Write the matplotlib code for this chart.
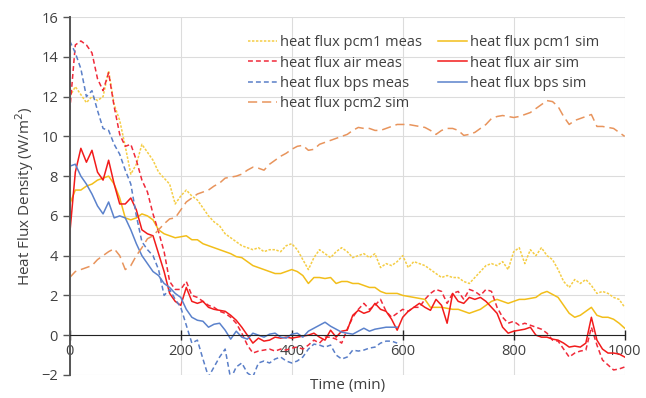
import numpy as np
import matplotlib
matplotlib.use('Agg')
import matplotlib.pyplot as plt

plt.rcParams['font.family'] = ['Open Sans', 'DejaVu Sans']

#### Données ####
t_full = list(range(0, 1001, 10))
t_bps = list(range(0, 591, 10))

pcm1_meas = [12.0, 12.5, 12.1, 11.7, 12.0, 11.8, 12.0, 13.3, 11.6, 10.8,
             9.5, 8.1, 8.6, 9.6, 9.2, 8.8, 8.2, 7.9, 7.6, 6.6,
             7.0, 7.3, 7.0, 6.8, 6.4, 6.0, 5.7, 5.5, 5.1, 4.9,
             4.7, 4.5, 4.4, 4.3, 4.4, 4.2, 4.3, 4.3, 4.2, 4.5,
             4.6, 4.3, 3.8, 3.3, 3.9, 4.3, 4.1, 3.9, 4.2, 4.4,
             4.2, 3.9, 4.0, 4.1, 3.9, 4.1, 3.4, 3.6, 3.5, 3.7,
             4.0, 3.4, 3.7, 3.6, 3.5, 3.3, 3.1, 2.9, 3.0, 2.9,
             2.9, 2.7, 2.6, 2.9, 3.2, 3.5, 3.6, 3.5, 3.7, 3.3,
             4.2, 4.4, 3.6, 4.3, 4.0, 4.4, 4.0, 3.8, 3.3, 2.7,
             2.4, 2.8, 2.6, 2.8, 2.5, 2.1, 2.2, 2.1, 1.9, 1.8,
             1.4]
pcm1_sim = [6.6, 7.3, 7.3, 7.5, 7.6, 7.8, 7.9, 8.0, 7.6, 6.9,
            5.9, 5.8, 5.9, 6.1, 6.0, 5.8, 5.3, 5.1, 5.0, 4.9,
            4.95, 5.0, 4.8, 4.8, 4.6, 4.5, 4.4, 4.3, 4.2, 4.1,
            3.95, 3.9, 3.7, 3.5, 3.4, 3.3, 3.2, 3.1, 3.1, 3.2,
            3.3, 3.2, 3.0, 2.6, 2.9, 2.9, 2.85, 2.9, 2.6, 2.7,
            2.7, 2.6, 2.6, 2.5, 2.4, 2.4, 2.2, 2.1, 2.1, 2.1,
            2.0, 1.95, 1.9, 1.85, 1.8, 1.4, 1.4, 1.4, 1.35, 1.3,
            1.3, 1.2, 1.1, 1.2, 1.3, 1.5, 1.7, 1.8, 1.7, 1.6,
            1.7, 1.8, 1.8, 1.85, 1.9, 2.1, 2.2, 2.05, 1.9, 1.5,
            1.1, 0.9, 1.0, 1.2, 1.4, 1.0, 0.9, 0.9, 0.8, 0.6,
            0.35]
air_meas = [11.3, 14.6, 14.8, 14.6, 14.2, 12.9, 12.3, 13.2, 11.5, 10.1,
            9.5, 9.6, 8.8, 7.8, 7.2, 6.1, 5.2, 4.2, 2.7, 2.3,
            2.3, 2.7, 2.0, 1.9, 1.7, 1.5, 1.4, 1.2, 1.1, 0.9,
            0.6, 0.1, -0.5, -0.9, -0.8, -0.75, -0.7, -0.8, -0.7, -0.75,
            -0.65, -0.6, -0.7, -0.5, -0.25, -0.4, -0.1, -0.1, -0.2, -0.4,
            0.3, 0.9, 1.3, 1.6, 1.3, 1.5, 1.8, 1.2, 0.9, 1.1,
            1.3, 1.2, 1.4, 1.4, 1.8, 2.1, 2.3, 2.2, 1.6, 2.1,
            2.2, 1.8, 2.3, 2.2, 2.0, 2.3, 2.2, 1.4, 0.9, 0.6,
            0.7, 0.5, 0.6, 0.5, 0.4, 0.3, 0.1, -0.25, -0.3, -0.7,
            -1.1, -0.9, -0.8, -0.75, 0.4, -0.5, -1.25, -1.5, -1.75, -1.7,
            -1.6]
air_sim = [5.1, 8.2, 9.4, 8.7, 9.3, 8.2, 7.8, 8.8, 7.6, 6.6,
           6.6, 6.9, 6.3, 5.3, 5.1, 5.0, 4.1, 3.2, 2.1, 1.7,
           1.5, 2.4, 1.7, 1.6, 1.7, 1.4, 1.3, 1.25, 1.2, 1.0,
           0.75, 0.4, 0.0, -0.4, -0.15, -0.3, -0.25, -0.1, -0.15, -0.1,
           -0.15, -0.1, -0.05, 0.0, 0.1, -0.1, -0.25, 0.25, -0.1, 0.2,
           0.25, 1.0, 1.25, 1.1, 1.2, 1.6, 1.3, 1.2, 0.8, 0.25,
           0.9, 1.2, 1.4, 1.6, 1.4, 1.25, 1.8, 1.5, 0.6, 2.1,
           1.7, 1.6, 1.9, 1.8, 1.9, 1.7, 1.4, 1.1, 0.4, 0.1,
           0.2, 0.25, 0.3, 0.4, 0.0, -0.1, -0.1, -0.2, -0.25, -0.4,
           -0.6, -0.55, -0.6, -0.4, 0.9, -0.25, -0.7, -0.9, -0.9, -0.95,
           -1.1]
bps_meas = [14.8, 14.2, 13.4, 12.0, 12.3, 11.3, 10.4, 10.3, 9.6, 9.1,
            8.3, 7.6, 6.0, 4.7, 4.3, 4.0, 3.3, 2.0, 2.3, 1.8,
            1.4, 0.5, -0.4, -0.25, -1.2, -2.1, -1.6, -1.1, -0.7, -2.2,
            -1.6, -1.4, -1.9, -2.1, -1.4, -1.3, -1.4, -1.2, -1.1, -1.3,
            -1.4, -1.3, -1.1, -0.7, -0.45, -0.5, -0.6, -0.5, -1.0, -1.2,
            -1.1, -0.75, -0.8, -0.75, -0.65, -0.6, -0.4, -0.3, -0.3, -0.4]
bps_sim = [8.5, 8.6, 8.0, 7.6, 7.1, 6.5, 6.1, 6.7, 5.9, 6.0,
           5.9, 5.3, 4.6, 4.0, 3.6, 3.2, 3.0, 2.6, 2.4, 2.1,
           1.9, 1.3, 0.9, 0.75, 0.7, 0.4, 0.55, 0.6, 0.25, -0.2,
           0.2, -0.1, -0.2, 0.1, 0.0, -0.1, 0.05, 0.1, -0.1, -0.15,
           0.05, 0.1, -0.1, 0.2, 0.35, 0.5, 0.65, 0.45, 0.3, 0.15,
           0.1, 0.05, 0.2, 0.35, 0.2, 0.3, 0.35, 0.4, 0.4, 0.4]
pcm2_sim = [2.9, 3.2, 3.3, 3.4, 3.5, 3.8, 4.0, 4.2, 4.35, 4.0,
            3.3, 3.5, 4.0, 4.4, 4.85, 5.0, 5.3, 5.6, 5.85, 5.9,
            6.3, 6.7, 6.9, 7.1, 7.2, 7.3, 7.5, 7.65, 7.9, 7.95,
            8.0, 8.1, 8.3, 8.45, 8.4, 8.3, 8.6, 8.8, 9.0, 9.15,
            9.35, 9.5, 9.55, 9.3, 9.35, 9.6, 9.7, 9.8, 9.9, 10.0,
            10.1, 10.3, 10.45, 10.4, 10.4, 10.3, 10.3, 10.4, 10.5, 10.6,
            10.6, 10.6, 10.55, 10.5, 10.45, 10.3, 10.1, 10.3, 10.4, 10.4,
            10.3, 10.05, 10.1, 10.2, 10.4, 10.6, 10.9, 11.0, 11.05, 11.0,
            10.95, 11.0, 11.1, 11.2, 11.4, 11.6, 11.8, 11.75, 11.5, 11.0,
            10.6, 10.8, 10.9, 11.0, 11.1, 10.5, 10.5, 10.45, 10.4, 10.2,
            10.0]

#### Tracé ####
fig = plt.figure(figsize=(6.46, 3.98), dpi=100)
ax = fig.add_axes([0.108, 0.058, 0.859, 0.899])

lw = 1.1
ax.plot(t_full, pcm1_meas, color='#F5CD45', lw=lw, dashes=(1.6, 1.0), label='heat flux pcm1 meas')
ax.plot(t_full, pcm1_sim, color='#F2BE1A', lw=lw, label='heat flux pcm1 sim')
ax.plot(t_full, air_meas, color='#F02A3A', lw=lw, dashes=(3.2, 2.0), label='heat flux air meas')
ax.plot(t_full, air_sim, color='#F21B1B', lw=lw, label='heat flux air sim')
ax.plot(t_bps, bps_meas, color='#5A7FC8', lw=lw, dashes=(3.2, 2.0), label='heat flux bps meas')
ax.plot(t_bps, bps_sim, color='#5B82CC', lw=lw, label='heat flux bps sim')
ax.plot(t_full, pcm2_sim, color='#E8945C', lw=lw, dashes=(6.0, 3.2), label='heat flux pcm2 sim')

ax.set_xlim(0, 1000)
ax.set_ylim(-2, 16)
ax.set_xticks(np.arange(0, 1001, 200))
ax.set_yticks(np.arange(-2, 17, 2))
ax.grid(True, color='#dcdcdc', lw=0.8)
ax.set_axisbelow(True)

ax.spines['top'].set_visible(False)
ax.spines['right'].set_visible(False)
ax.spines['bottom'].set_position(('data', 0))
ax.spines['bottom'].set_color('#222222')
ax.spines['left'].set_color('#555555')
ax.spines['left'].set_linewidth(1.4)
ax.tick_params(axis='x', direction='inout', length=7, width=1.0, pad=3,
               colors='#222222', labelcolor='#404040', labelsize=10.5)
ax.tick_params(axis='y', direction='out', length=5, width=1.0,
               colors='#555555', labelcolor='#404040', labelsize=10.5)

ax.set_ylabel('Heat Flux Density (W/m$^2$)', fontsize=11, color='#404040', labelpad=4)
ax.text(0.5, -0.008, 'Time (min)', transform=ax.transAxes, ha='center', va='top',
        fontsize=11, color='#404040')

h, l = ax.get_legend_handles_labels()
order = [0, 2, 4, 6, 1, 3, 5]
ax.legend([h[i] for i in order], [l[i] for i in order], ncol=2, frameon=False,
          loc='upper left', bbox_to_anchor=(0.31, 0.965), fontsize=10.5,
          handlelength=2.0, handletextpad=0.2, columnspacing=1.1,
          labelspacing=0.35, labelcolor='#404040', borderaxespad=0)

fig.savefig('out.png', dpi=100)
